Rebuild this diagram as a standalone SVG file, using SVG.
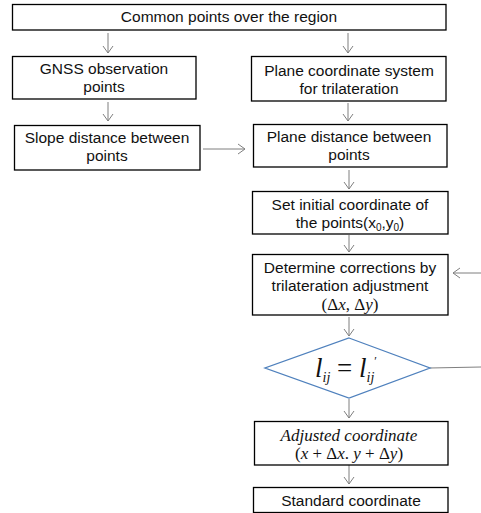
<svg xmlns="http://www.w3.org/2000/svg" width="481" height="513" viewBox="0 0 481 513">
<defs>
<marker id="ah" markerWidth="12" markerHeight="12" refX="9" refY="6" orient="auto" markerUnits="userSpaceOnUse">
<path d="M2,1 L9,6 L2,11" fill="none" stroke="#7f7f7f" stroke-width="1"/>
</marker>
</defs>
<style>
.box{fill:#fff;stroke:#000;stroke-width:1.3}
.t{font-family:"Liberation Sans",Arial,sans-serif;font-size:15.5px;fill:#111;text-anchor:middle}
.m{font-family:"Liberation Serif","DejaVu Serif",serif;font-size:17px;fill:#111;text-anchor:middle}
.c{fill:none;stroke:#7f7f7f;stroke-width:1}
.dia{fill:#fff;stroke:#4f81bd;stroke-width:1.3}
</style>
<rect width="481" height="513" fill="#fff"/>
<g id="connectors">
<line class="c" x1="108" y1="33" x2="108" y2="53" marker-end="url(#ah)"/>
<line class="c" x1="348" y1="33" x2="348" y2="53" marker-end="url(#ah)"/>
<line class="c" x1="108" y1="102" x2="108" y2="121" marker-end="url(#ah)"/>
<line class="c" x1="348" y1="103" x2="348" y2="121" marker-end="url(#ah)"/>
<line class="c" x1="203" y1="149" x2="245" y2="149" marker-end="url(#ah)"/>
<line class="c" x1="349" y1="170" x2="349" y2="189" marker-end="url(#ah)"/>
<line class="c" x1="349" y1="235" x2="349" y2="252" marker-end="url(#ah)"/>
<line class="c" x1="481" y1="273" x2="453" y2="273" marker-end="url(#ah)"/>
<line class="c" x1="349" y1="317" x2="349" y2="336" marker-end="url(#ah)"/>
<line class="c" x1="430" y1="368" x2="481" y2="367"/>
<line class="c" x1="349" y1="399" x2="349" y2="418" marker-end="url(#ah)"/>
<line class="c" x1="349" y1="465" x2="349" y2="484" marker-end="url(#ah)"/>
</g>
<g id="n-common">
<rect class="box" x="12.5" y="4.5" width="433.5" height="25.5"/>
<text class="t" x="229" y="22">Common points over the region</text>
</g>
<g id="n-gnss">
<rect class="box" x="12.5" y="56.5" width="183.5" height="42.5"/>
<text class="t" x="104" y="74">GNSS observation</text>
<text class="t" x="104" y="92">points</text>
</g>
<g id="n-plane-coord">
<rect class="box" x="251.5" y="56.5" width="194.5" height="44.5"/>
<text class="t" x="349" y="76">Plane coordinate system</text>
<text class="t" x="349" y="94">for trilateration</text>
</g>
<g id="n-slope">
<rect class="box" x="14.5" y="125.5" width="185.5" height="44.5"/>
<text class="t" x="107" y="143">Slope distance between</text>
<text class="t" x="107" y="161">points</text>
</g>
<g id="n-plane-dist">
<rect class="box" x="253.5" y="124.5" width="193.5" height="42.5"/>
<text class="t" x="349" y="142">Plane distance between</text>
<text class="t" x="349" y="160">points</text>
</g>
<g id="n-initial">
<rect class="box" x="252.5" y="191.5" width="195.5" height="42.5"/>
<text class="t" x="350" y="210">Set initial coordinate of</text>
<text class="t" x="350" y="228">the points(x<tspan font-size="10" dy="3">0</tspan><tspan dy="-3">,y</tspan><tspan font-size="10" dy="3">0</tspan><tspan dy="-3">)</tspan></text>
</g>
<g id="n-determine">
<rect class="box" x="252.5" y="254.5" width="195.5" height="60.5"/>
<text class="t" x="350" y="273">Determine corrections by</text>
<text class="t" x="350" y="291">trilateration adjustment</text>
<text class="m" x="350" y="310">(Δ<tspan font-style="italic">x</tspan>, Δ<tspan font-style="italic">y</tspan>)</text>
</g>
<g id="n-check">
<polygon class="dia" points="349,338 430,368 349,398 265,368"/>
<text x="346" y="377" font-family="Liberation Serif,DejaVu Serif,serif" font-size="27" fill="#111" text-anchor="middle"><tspan font-style="italic">l</tspan><tspan font-style="italic" font-size="14" dy="5">ij</tspan><tspan dy="-5"> = </tspan><tspan font-style="italic">l</tspan><tspan font-style="italic" font-size="14" dy="5">ij</tspan><tspan font-size="12" dy="-17">′</tspan></text>
</g>
<g id="n-adjusted">
<rect class="box" x="254.5" y="421.5" width="193.5" height="43.5"/>
<text class="m" x="349" y="441" font-style="italic">Adjusted coordinate</text>
<text class="m" x="349" y="459">(<tspan font-style="italic">x</tspan> + Δ<tspan font-style="italic">x</tspan>. <tspan font-style="italic">y</tspan> + Δ<tspan font-style="italic">y</tspan>)</text>
</g>
<g id="n-standard">
<rect class="box" x="253.5" y="487.5" width="194.5" height="25"/>
<text class="t" x="351" y="506">Standard coordinate</text>
</g>
</svg>
